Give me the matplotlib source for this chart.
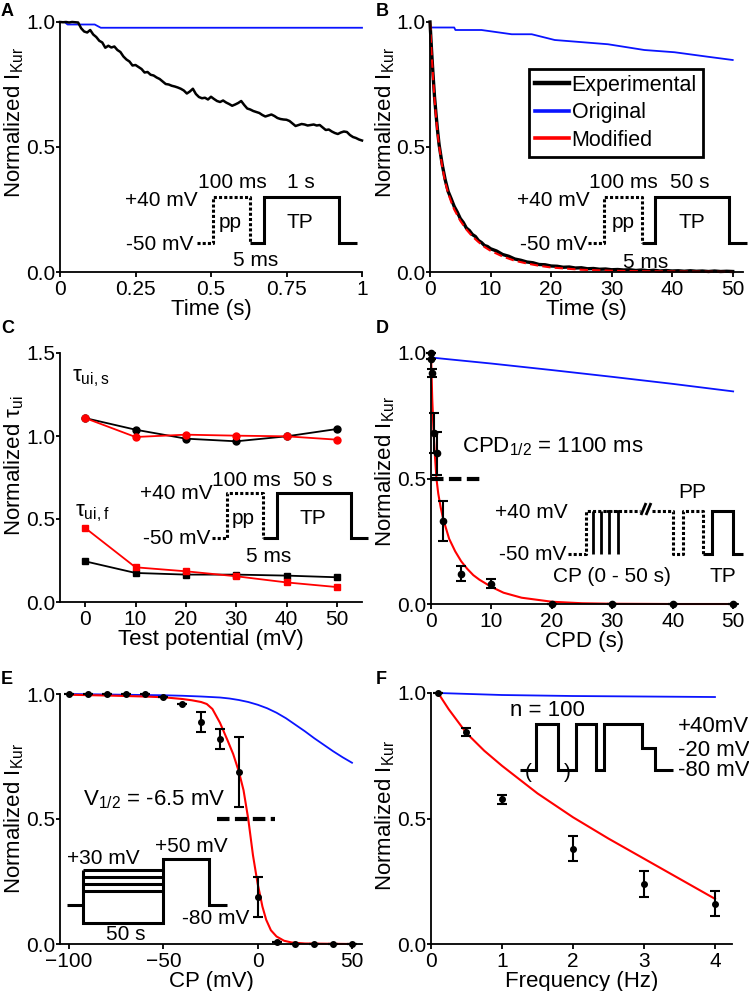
import numpy as np
import matplotlib.pyplot as plt
from matplotlib.lines import Line2D

plt.rcParams['font.family'] = ['Liberation Sans', 'DejaVu Sans']
plt.rcParams['mathtext.fontset'] = 'custom'
plt.rcParams['mathtext.rm'] = 'Liberation Sans'
plt.rcParams['mathtext.it'] = 'Liberation Sans:italic'
plt.rcParams['mathtext.bf'] = 'Liberation Sans:bold'
plt.rcParams['font.size'] = 15

W, H = 749, 991
BLUE = '#0a14ff'
RED = '#ff0000'
LAB = 16  # axis label size

# ---------------- data ----------------
# A: 1 s test pulse
a_exp_t = np.arange(0, 1.001, 0.01)
a_exp_v = [1.000, 0.999, 1.000, 0.998, 1.000, 0.999, 0.998, 0.975, 0.962, 0.958,
           0.968, 0.950, 0.940, 0.925, 0.918, 0.897, 0.905, 0.898, 0.902, 0.888,
           0.880, 0.862, 0.850, 0.842, 0.826, 0.828, 0.820, 0.812, 0.798, 0.800,
           0.789, 0.786, 0.778, 0.772, 0.762, 0.752, 0.750, 0.745, 0.742, 0.738,
           0.733, 0.726, 0.714, 0.722, 0.733, 0.712, 0.700, 0.695, 0.697, 0.690,
           0.701, 0.692, 0.684, 0.680, 0.686, 0.678, 0.672, 0.665, 0.670, 0.676,
           0.684, 0.668, 0.654, 0.650, 0.644, 0.640, 0.636, 0.628, 0.622, 0.626,
           0.630, 0.624, 0.616, 0.612, 0.610, 0.609, 0.604, 0.594, 0.584, 0.588,
           0.592, 0.590, 0.586, 0.588, 0.590, 0.586, 0.588, 0.578, 0.568, 0.570,
           0.562, 0.556, 0.552, 0.558, 0.562, 0.560, 0.548, 0.540, 0.536, 0.530,
           0.526]
a_orig_t = [0, 0.015, 0.025, 0.115, 0.135, 1.0]
a_orig_v = [1.0, 1.0, 0.99, 0.99, 0.977, 0.977]

# B: 50 s test pulse
b_exp_t = [0, 0.25, 0.5, 0.75, 1, 1.25, 1.5, 2, 2.5, 3, 3.5, 4, 4.5, 5, 5.5, 6, 6.5,
           7, 7.5, 8, 8.5, 9, 9.5, 10, 11, 12, 13, 14, 15, 16, 17, 18, 19, 20, 21,
           22, 23, 24, 25, 26, 27, 28, 29, 30, 31, 32, 33, 34, 35, 36, 37, 38, 39,
           40, 41, 42, 43, 44, 45, 46, 47, 48, 49, 50]
b_exp_v = [1.0, 0.89, 0.79, 0.70, 0.63, 0.565, 0.51, 0.432, 0.37, 0.322, 0.293, 0.262,
           0.240, 0.214, 0.198, 0.176, 0.166, 0.150, 0.142, 0.126, 0.118, 0.106,
           0.102, 0.093, 0.084, 0.070, 0.063, 0.052, 0.047, 0.040, 0.037, 0.030,
           0.029, 0.024, 0.023, 0.019, 0.020, 0.016, 0.017, 0.013, 0.014, 0.011,
           0.012, 0.009, 0.010, 0.008, 0.009, 0.006, 0.008, 0.005, 0.007, 0.004,
           0.006, 0.004, 0.005, 0.003, 0.005, 0.003, 0.004, 0.002, 0.004, 0.002,
           0.003, 0.002]
b_mod_t = [0, 0.25, 0.5, 0.75, 1, 1.25, 1.5, 2, 2.5, 3, 3.5, 4, 5, 6, 7, 8, 9, 10,
           12, 14, 16, 18, 20, 25, 30, 35, 40, 45, 50]
b_mod_v = [1.0, 0.88, 0.78, 0.69, 0.62, 0.555, 0.505, 0.425, 0.36, 0.315, 0.28, 0.25,
           0.205, 0.17, 0.142, 0.12, 0.10, 0.085, 0.062, 0.045, 0.034, 0.025, 0.018,
           0.009, 0.005, 0.003, 0.002, 0.001, 0.0]
b_orig_t = [0, 4, 4.2, 8.5, 13.5, 16.8, 20.6, 29.4, 35.4, 40.4, 45.9, 50]
b_orig_v = [0.978, 0.978, 0.968, 0.968, 0.951, 0.951, 0.928, 0.911, 0.888, 0.879,
            0.861, 0.848]

# C: normalized time constants vs test potential
c_tp = [0, 10, 20, 30, 40, 50]
c_slow_exp = [1.108, 1.038, 0.984, 0.968, 0.998, 1.042]
c_slow_mod = [1.108, 0.994, 1.008, 1.002, 0.998, 0.978]
c_fast_exp = [0.245, 0.175, 0.165, 0.165, 0.159, 0.149]
c_fast_mod = [0.446, 0.209, 0.185, 0.155, 0.118, 0.090]

# D: recovery vs conditioning pulse duration
d_cpd = [0, 0.05, 0.2, 0.5, 1, 2, 5, 10, 20, 30, 40, 50]
d_val = [1.0, 0.975, 0.92, 0.68, 0.60, 0.33, 0.12, 0.08, 0.0, 0.0, 0.0, 0.0]
d_err = [0, 0, 0.017, 0.08, 0.085, 0.08, 0.03, 0.018, 0, 0, 0, 0]
d_mod_t = [0, 0.2, 0.4, 0.6, 0.9, 1.2, 1.6, 2, 3, 4, 5, 6, 7, 8, 10, 12, 15, 20, 25,
           30, 40, 50]
d_mod_v = [1.0, 0.82, 0.70, 0.61, 0.50, 0.44, 0.385, 0.34, 0.26, 0.21, 0.17, 0.14,
           0.115, 0.097, 0.068, 0.045, 0.025, 0.009, 0.003, 0.001, 0.0, 0.0]
d_orig_t = [0, 10, 20, 30, 40, 50]
d_orig_v = [0.982, 0.958, 0.932, 0.905, 0.877, 0.847]
d_half = 0.5
d_half_span = (0, 8.1)

# E: steady-state inactivation vs conditioning potential
e_cp = [-100, -90, -80, -70, -60, -50, -40, -30, -20, -10, 0, 10, 20, 30, 40, 50]
e_val = [1.0, 1.0, 1.0, 1.0, 1.0, 0.99, 0.96, 0.889, 0.82, 0.689, 0.189, 0.009,
         0.0, 0.0, 0.0, 0.0]
e_err = [0, 0, 0, 0, 0, 0, 0, 0.04, 0.04, 0.14, 0.079, 0, 0, 0, 0, 0]
e_mod_cp = [-100, -80, -60, -50, -40, -35, -30, -27, -24, -20, -16, -13, -10, -7.5,
            -5, -2.5, 0, 1, 2.5, 4.5, 7, 10, 14, 18, 25, 50]
e_mod_v = [0.997, 0.994, 0.99, 0.987, 0.98, 0.975, 0.968, 0.96, 0.94, 0.885, 0.815,
           0.76, 0.69, 0.615, 0.50, 0.355, 0.24, 0.205, 0.15, 0.097, 0.055, 0.03,
           0.013, 0.006, 0.002, 0.0]
e_orig_cp = [-100, -90, -80, -70, -60, -50, -40, -30, -20, -15, -10, -5, 0, 5, 10,
             15, 20, 25, 30, 35, 40, 45, 50]
e_orig_v = [1.0, 0.999, 0.998, 0.997, 0.996, 0.995, 0.993, 0.99, 0.986, 0.982, 0.976,
            0.968, 0.957, 0.943, 0.925, 0.903, 0.877, 0.851, 0.823, 0.797, 0.771,
            0.747, 0.725]
e_half = 0.5
e_half_span = (-21.8, 9.1)

# F: frequency dependence
f_freq = [0.1, 0.5, 1, 2, 3, 4]
f_val = [1.0, 0.844, 0.577, 0.379, 0.239, 0.16]
f_err = [0, 0.017, 0.018, 0.05, 0.05, 0.05]
f_mod_hz = [0.1, 0.25, 0.5, 0.75, 1.0, 1.5, 2.0, 2.5, 3.0, 3.5, 4.0]
f_mod_v = [1.0, 0.935, 0.84, 0.77, 0.71, 0.60, 0.505, 0.42, 0.34, 0.26, 0.18]
f_orig_hz = [0.1, 1, 2, 3, 4]
f_orig_v = [1.0, 0.992, 0.988, 0.986, 0.984]


# ---------------- helpers ----------------
def fig_line(fig, xs, ys, dotted=False, lw=2.2):
    ls = (0, (1, 0.7)) if dotted else '-'
    fig.add_artist(Line2D([x / W for x in xs], [1 - y / H for y in ys], color='black',
                          lw=lw, linestyle=ls, solid_joinstyle='miter',
                          solid_capstyle='butt', dash_capstyle='butt'))


def fig_text(fig, x, y, s, ha='left', size=15, **kw):
    fig.text(x / W, 1 - y / H, s, ha=ha, va='center', fontsize=size, **kw)


def make_axes(fig, box):
    l, t, r, b = box
    ax = fig.add_axes([l / W, 1 - b / H, (r - l) / W, (b - t) / H])
    for s in ('top', 'right'):
        ax.spines[s].set_visible(False)
    for s in ('left', 'bottom'):
        ax.spines[s].set_linewidth(1.3)
    ax.tick_params(axis='x', length=3.5, width=1.3, pad=2, labelsize=15)
    ax.tick_params(axis='y', length=3, width=1.3, pad=0.5, labelsize=15)
    return ax


# ---------------- figure ----------------
fig = plt.figure(figsize=(W / 100, H / 100), dpi=100)

ylab_kur = r'Normalized I$_{\mathrm{Kur}}$'

# Panel A
axA = make_axes(fig, (60, 22, 362, 272))
axA.plot(a_orig_t, a_orig_v, color=BLUE, lw=1.3, clip_on=False)
axA.plot(a_exp_t, a_exp_v, color='black', lw=1.8, clip_on=False)
axA.set_xlim(0, 1)
axA.set_ylim(0, 1.0)
axA.set_xticks([0, 0.25, 0.5, 0.75, 1])
axA.set_xticklabels(['0', '0.25', '0.5', '0.75', '1'])
axA.set_yticks([0, 0.5, 1.0])
axA.set_yticklabels(['0.0', '0.5', '1.0'])
axA.set_xlabel('Time (s)', fontsize=LAB, labelpad=0)
axA.set_ylabel(ylab_kur, fontsize=LAB)
axA.yaxis.set_label_coords(-0.112, 0.60)

fig_text(fig, 232, 183, '100 ms', ha='center')
fig_text(fig, 301, 183, '1 s', ha='center')
fig_text(fig, 198, 200, '+40 mV', ha='right')
fig_text(fig, 193, 245, '-50 mV', ha='right')
fig_text(fig, 230, 222, 'pp', ha='center')
fig_text(fig, 300, 222, 'TP', ha='center')
fig_text(fig, 256, 260, '5 ms', ha='center')
fig_line(fig, [197, 213, 213, 250, 250], [243, 243, 197, 197, 243], dotted=True)
fig_line(fig, [250, 264, 264, 339, 339, 357], [243, 243, 197, 197, 243, 243])

# Panel B
axB = make_axes(fig, (430, 22, 743, 272))
axB.plot(b_orig_t, b_orig_v, color=BLUE, lw=1.3, clip_on=False)
axB.plot(b_exp_t, b_exp_v, color='black', lw=2.4, clip_on=False)
axB.plot(b_mod_t, b_mod_v, color=RED, lw=1.5, dashes=(4, 2), clip_on=False)
axB.set_xlim(0, 51.7)
axB.set_ylim(0, 1.0)
axB.set_xticks([0, 10, 20, 30, 40, 50])
axB.set_yticks([0, 0.5, 1.0])
axB.set_yticklabels(['0.0', '0.5', '1.0'])
axB.set_xlabel('Time (s)', fontsize=LAB, labelpad=0)
axB.set_ylabel(ylab_kur, fontsize=LAB)
axB.yaxis.set_label_coords(-0.107, 0.60)

handles = [Line2D([], [], color='black', lw=3.2),
           Line2D([], [], color=BLUE, lw=2.6),
           Line2D([], [], color=RED, lw=2.6)]
leg = axB.legend(handles, ['Experimental', 'Original', 'Modified'], loc='upper left',
                 bbox_to_anchor=(529 / W, 1 - 69 / H), bbox_transform=fig.transFigure,
                 borderaxespad=0, fancybox=False, framealpha=1, edgecolor='black',
                 handlelength=1.6, handletextpad=0.1, labelspacing=0.3,
                 borderpad=0.28, fontsize=15.5)
leg.get_frame().set_linewidth(2)

fig_text(fig, 623, 183, '100 ms', ha='center')
fig_text(fig, 690, 183, '50 s', ha='center')
fig_text(fig, 590, 200, '+40 mV', ha='right')
fig_text(fig, 587, 245, '-50 mV', ha='right')
fig_text(fig, 623, 222, 'pp', ha='center')
fig_text(fig, 692, 222, 'TP', ha='center')
fig_text(fig, 646, 262, '5 ms', ha='center')
fig_line(fig, [588, 604, 604, 642, 642], [243, 243, 197, 197, 243], dotted=True)
fig_line(fig, [642, 655, 655, 729, 729, 747], [243, 243, 197, 197, 243, 243])

# Panel C
axC = make_axes(fig, (60, 353, 362, 602))
axC.plot(c_tp, c_slow_exp, color='black', lw=1.3, marker='o', ms=5)
axC.plot(c_tp, c_fast_exp, color='black', lw=1.3, marker='s', ms=5)
axC.plot(c_tp, c_slow_mod, color=RED, lw=1.3, marker='o', ms=5)
axC.plot(c_tp, c_fast_mod, color=RED, lw=1.3, marker='s', ms=5)
axC.set_xlim(-5, 55)
axC.set_ylim(0, 1.5)
axC.set_xticks([0, 10, 20, 30, 40, 50])
axC.set_yticks([0, 0.5, 1.0, 1.5])
axC.set_yticklabels(['0.0', '0.5', '1.0', '1.5'])
axC.set_xlabel('Test potential (mV)', fontsize=LAB, labelpad=0)
axC.set_ylabel(r'Normalized τ$_{\mathrm{ui}}$', fontsize=LAB)
axC.yaxis.set_label_coords(-0.112, 0.546)
fig_text(fig, 72, 378, r'τ$_{\mathrm{ui,s}}$', size=16)
fig_text(fig, 75, 513, r'τ$_{\mathrm{ui,f}}$', size=16)

fig_text(fig, 246, 480, '100 ms', ha='center')
fig_text(fig, 313, 480, '50 s', ha='center')
fig_text(fig, 213, 494, '+40 mV', ha='right')
fig_text(fig, 210, 538, '-50 mV', ha='right')
fig_text(fig, 243, 519, 'pp', ha='center')
fig_text(fig, 313, 519, 'TP', ha='center')
fig_text(fig, 269, 557, '5 ms', ha='center')
fig_line(fig, [212, 227, 227, 263, 263], [538, 538, 493, 493, 538], dotted=True)
fig_line(fig, [263, 277, 277, 351, 351, 368], [538, 538, 493, 493, 538, 538])

# Panel D
axD = make_axes(fig, (431, 353, 738, 604))
axD.plot(d_orig_t, d_orig_v, color=BLUE, lw=1.3, clip_on=False)
axD.plot(d_mod_t, d_mod_v, color=RED, lw=1.5, clip_on=False)
axD.errorbar(d_cpd, d_val, yerr=d_err, fmt='o', color='black', ms=4.5, elinewidth=1.5,
             capsize=3.5, capthick=1.5, clip_on=False, zorder=4)
axD.plot(d_half_span, [d_half, d_half], color='black', lw=3, dashes=(3, 1.3))
axD.set_xlim(0, 50.8)
axD.set_ylim(0, 1.0)
axD.set_xticks([0, 10, 20, 30, 40, 50])
axD.set_yticks([0, 0.5, 1.0])
axD.set_yticklabels(['0.0', '0.5', '1.0'])
axD.set_xlabel('CPD (s)', fontsize=LAB, labelpad=0)
axD.set_ylabel(ylab_kur, fontsize=LAB)
axD.yaxis.set_label_coords(-0.112, 0.526)
fig_text(fig, 462, 447, r'CPD$_{1/2}$ = 1100 ms', size=16)

fig_text(fig, 568, 512, '+40 mV', ha='right')
fig_text(fig, 566, 555, '-50 mV', ha='right')
fig_text(fig, 692, 492, 'PP', ha='center')
fig_text(fig, 612, 576, 'CP (0 - 50 s)', ha='center')
fig_text(fig, 723, 576, 'TP', ha='center')
fig_line(fig, [568, 586, 586, 640], [554, 554, 511, 511], dotted=True)
fig_line(fig, [652, 673, 673, 683, 683, 703, 703], [511, 511, 554, 554, 511, 511, 554],
         dotted=True)
for xv in (593, 601, 609, 618):
    fig_line(fig, [xv, xv], [511, 554], lw=2)
fig_line(fig, [606, 612], [511, 511], lw=2)
fig_line(fig, [615, 621], [511, 511], lw=2)
fig_line(fig, [641, 646], [515, 503], lw=2)
fig_line(fig, [646, 651], [515, 503], lw=2)
fig_line(fig, [703, 712, 712, 733, 733, 743], [554, 554, 511, 511, 554, 554])

# Panel E
axE = make_axes(fig, (60, 694, 362, 944))
axE.plot(e_orig_cp, e_orig_v, color=BLUE, lw=1.3, clip_on=False)
axE.plot(e_mod_cp, e_mod_v, color=RED, lw=1.5, clip_on=False)
axE.errorbar(e_cp, e_val, yerr=e_err, fmt='o', color='black', ms=4, elinewidth=1.5,
             capsize=3.5, capthick=1.5, clip_on=False, zorder=4)
axE.plot(e_half_span, [e_half, e_half], color='black', lw=3, dashes=(3, 1.3))
axE.set_xlim(-104.8, 55.3)
axE.set_ylim(0, 1.0)
axE.set_xticks([-100, -50, 0, 50])
axE.set_yticks([0, 0.5, 1.0])
axE.set_yticklabels(['0.0', '0.5', '1.0'])
axE.set_xlabel('CP (mV)', fontsize=LAB, labelpad=0)
axE.set_ylabel(ylab_kur, fontsize=LAB)
axE.yaxis.set_label_coords(-0.112, 0.504)
fig_text(fig, 83, 800, r'V$_{1/2}$ = -6.5 mV', size=16)

fig_text(fig, 67, 858, '+30 mV')
fig_text(fig, 155, 847, '+50 mV')
fig_text(fig, 182, 918, '-80 mV')
fig_text(fig, 106, 935, '50 s')
fig_line(fig, [67, 83], [905, 905])
fig_line(fig, [83, 83, 163, 163, 209, 209, 227], [870, 923, 923, 859, 859, 905, 905])
for yv in (870, 877, 884, 891):
    fig_line(fig, [83, 163], [yv, yv])

# Panel F
axF = make_axes(fig, (431, 693, 732, 944))
axF.plot(f_orig_hz, f_orig_v, color=BLUE, lw=1.3, clip_on=False)
axF.plot(f_mod_hz, f_mod_v, color=RED, lw=1.5, clip_on=False)
axF.errorbar(f_freq, f_val, yerr=f_err, fmt='o', color='black', ms=4, elinewidth=1.5,
             capsize=3.5, capthick=1.5, clip_on=False, zorder=4)
axF.set_xlim(0, 4.24)
axF.set_ylim(0, 1.0)
axF.set_xticks([0, 1, 2, 3, 4])
axF.set_yticks([0, 0.5, 1.0])
axF.set_yticklabels(['0.0', '0.5', '1.0'])
axF.set_xlabel('Frequency (Hz)', fontsize=LAB, labelpad=0)
axF.set_ylabel(ylab_kur, fontsize=LAB)
axF.yaxis.set_label_coords(-0.112, 0.514)

fig_text(fig, 510, 710, 'n = 100', size=16)
fig_text(fig, 678, 726, '+40mV', size=16)
fig_text(fig, 678, 750, '-20 mV', size=16)
fig_text(fig, 678, 770, '-80 mV', size=16)
fig_text(fig, 528, 772, '(', ha='center', size=15)
fig_text(fig, 567, 772, ')', ha='center', size=15)
fig_line(fig, [520, 536, 536, 558, 558, 576, 576, 596, 596, 604, 604, 642, 642, 655, 655, 673],
         [770, 770, 724, 724, 770, 770, 724, 724, 770, 770, 724, 724, 748, 748, 770, 770])

# panel letters
for letter, (x, y) in zip('ABCDEF', [(1, 12), (376, 12), (1, 329), (376, 329),
                                      (1, 679), (376, 679)]):
    fig_text(fig, x, y, letter, size=13, fontweight='bold')

fig.savefig('out.png', dpi=100)
